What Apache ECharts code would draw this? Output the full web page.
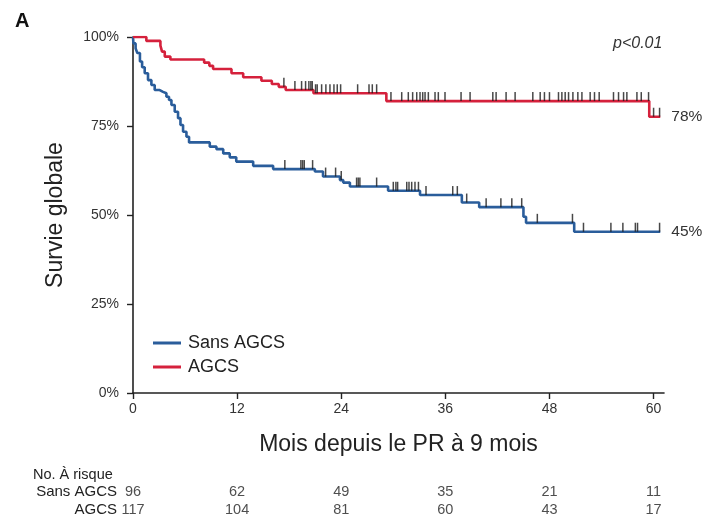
<!DOCTYPE html>
<html>
<head>
<meta charset="utf-8">
<script src="https://cdn.jsdelivr.net/npm/echarts@6/dist/echarts.min.js"></script>
<style>
  html, body { margin: 0; padding: 0; background: #fff; }
  #box { width: 705px; height: 523px; }
</style>
</head>
<body>
<div id="box"></div>
<script>
// courbe Sans AGCS : temps (mois) et survie (%)
const sansTime = [0, 0.05, 0.3, 0.5, 0.8, 1.05, 1.35, 1.73, 2.12, 2.5, 3.08, 3.46, 3.85, 4.15, 4.43, 4.81, 5.19, 5.47, 5.77, 6.16, 6.46, 8.85, 9.62, 10.4, 11.15, 11.9, 13.85, 16.15, 20.96, 21.9, 23.85, 24.23, 25.0, 29.4, 33.08, 37.9, 39.9, 45.0, 45.3, 50.85, 60.77];
const sansSurv = [100, 98.2, 96.8, 95.5, 93.1, 91.5, 89.8, 87.9, 86.5, 85.1, 84.6, 84.2, 83.2, 82.3, 80.9, 79.0, 77.2, 75.3, 73.4, 72.0, 70.4, 69.2, 68.5, 67.3, 66.2, 65.0, 63.8, 62.9, 62.2, 60.8, 59.8, 59.1, 58.0, 56.8, 55.6, 53.5, 52.2, 49.5, 47.8, 45.3, 45.3];
// patients censurés Sans AGCS
const sansCensor = [17.5, 19.35, 19.55, 19.74, 20.7, 22.2, 23.35, 24.0, 25.77, 25.96, 26.15, 28.08, 30.0, 30.3, 30.5, 31.55, 31.81, 32.12, 32.5, 32.9, 33.77, 36.85, 37.38, 38.46, 40.7, 42.4, 43.66, 44.8, 46.6, 50.65, 51.92, 55.08, 56.46, 57.9, 58.15, 60.69];

// courbe AGCS
const agcsTime = [0, 1.54, 3.16, 3.35, 3.66, 4.31, 8.2, 8.8, 9.23, 11.35, 12.7, 14.8, 16.0, 16.8, 17.6, 20.8, 29.2, 59.5, 60.77];
const agcsSurv = [100, 98.9, 97.6, 95.9, 94.5, 93.7, 92.8, 91.9, 91.0, 89.8, 88.7, 87.7, 86.8, 86.0, 85.1, 84.2, 82.0, 77.6, 77.6];
// patients censurés AGCS
const agcsCensor = [17.39, 18.66, 19.43, 19.89, 20.27, 20.5, 20.66, 21.04, 21.23, 21.74, 22.23, 22.7, 23.16, 23.54, 23.93, 25.89, 27.2, 27.58, 28.08, 29.73, 30.97, 31.73, 32.23, 32.7, 33.08, 33.39, 33.66, 34.04, 34.81, 35.19, 35.96, 37.81, 38.85, 41.47, 41.85, 43.0, 44.04, 46.08, 46.93, 47.42, 48.0, 49.04, 49.43, 49.81, 50.2, 50.7, 51.27, 51.74, 52.69, 53.19, 53.73, 55.38, 55.96, 56.54, 56.92, 58.08, 58.58, 59.42, 60.0, 60.69];

// axe x et tableau des patients à risque
const xTicks = [0, 12, 24, 36, 48, 60];
const riskGroups = ['Sans AGCS', 'AGCS'];
const riskSans = [96, 62, 49, 35, 21, 11];
const riskAgcs = [117, 104, 81, 60, 43, 17];

const RED = '#d5213c';
const BLUE = '#2a5d9b';
const FONT = "'Liberation Sans', Arial, sans-serif";

// valeur de la courbe (en escalier) au temps t
function survAt(times, surv, t) {
    let v = surv[0];
    for (let i = 0; i < times.length; i++) {
        if (times[i] <= t) v = surv[i];
    }
    return v;
}

const pairs = (a, b) => a.map((v, i) => [v, b[i]]);
const censorData = (c, times, surv) => c.map(t => [t, survAt(times, surv, t)]);

const censorStyle = {
    type: 'scatter',
    symbol: 'rect',
    symbolSize: [1.5, 9],
    symbolOffset: [0, -4.5],
    itemStyle: { color: '#1a1a1a' },
    z: 5,
    silent: true
};

const riskData = [];
xTicks.forEach((t, i) => {
    riskData.push([t, 'Sans AGCS', riskSans[i]]);
    riskData.push([t, 'AGCS', riskAgcs[i]]);
});

var myChart = echarts.init(document.getElementById('box'));
myChart.setOption({
    animation: false,
    backgroundColor: '#fff',
    textStyle: { fontFamily: FONT },
    graphic: [
        { type: 'text', left: 15, top: 11, style: { text: 'A', font: 'bold 20px ' + FONT, fill: '#111' } },
        { type: 'text', left: 613, top: 36, style: { text: 'p<0.01', font: 'italic 16px ' + FONT, fill: '#333' } },
        { type: 'text', left: 33, top: 467, style: { text: 'No. À risque', font: '14.5px ' + FONT, fill: '#222' } }
    ],
    legend: {
        data: ['Sans AGCS', 'AGCS'],
        icon: 'rect',
        orient: 'vertical',
        left: 148,
        top: 329,
        itemWidth: 28,
        itemHeight: 3,
        itemGap: 6,
        textStyle: { fontSize: 18, color: '#222', fontFamily: FONT, padding: [0, 0, 0, 2] }
    },
    grid: [
        { left: 133, top: 37, width: 531, height: 356 },
        { left: 133, top: 483, width: 531, height: 36 }
    ],
    xAxis: [
        {
            type: 'value',
            gridIndex: 0,
            min: 0,
            max: 61.2,
            name: 'Mois depuis le PR à 9 mois',
            nameLocation: 'middle',
            nameGap: 40,
            nameTextStyle: { fontSize: 23, color: '#222' },
            splitLine: { show: false },
            axisLine: { lineStyle: { color: '#222', width: 1.6 } },
            axisTick: { customValues: xTicks, length: 6, lineStyle: { color: '#222', width: 1.4 } },
            axisLabel: { customValues: xTicks, fontSize: 14, color: '#333', margin: 9 }
        },
        {
            type: 'value',
            gridIndex: 1,
            min: 0,
            max: 61.2,
            show: false
        }
    ],
    yAxis: [
        {
            type: 'value',
            gridIndex: 0,
            min: 0,
            max: 100,
            interval: 25,
            name: 'Survie globale',
            nameLocation: 'middle',
            nameGap: 66,
            nameTextStyle: { fontSize: 23, color: '#222' },
            splitLine: { show: false },
            axisLine: { show: true, lineStyle: { color: '#222', width: 1.6 } },
            axisTick: { show: true, length: 6, lineStyle: { color: '#222', width: 1.4 } },
            axisLabel: { formatter: '{value}%', fontSize: 14, color: '#333', margin: 14 }
        },
        {
            type: 'category',
            gridIndex: 1,
            data: riskGroups,
            inverse: true,
            axisLine: { show: false },
            axisTick: { show: false },
            splitLine: { show: false },
            axisLabel: { interval: 0, fontSize: 15, color: '#222', margin: 16 }
        }
    ],
    series: [
        {
            name: 'Sans AGCS',
            type: 'line',
            step: 'end',
            symbol: 'none',
            data: pairs(sansTime, sansSurv),
            lineStyle: { color: BLUE, width: 2.6 },
            itemStyle: { color: BLUE },
            endLabel: { show: true, formatter: '45%', distance: 11, fontSize: 15.5, color: '#333' }
        },
        {
            name: 'AGCS',
            type: 'line',
            step: 'end',
            symbol: 'none',
            data: pairs(agcsTime, agcsSurv),
            lineStyle: { color: RED, width: 2.6 },
            itemStyle: { color: RED },
            endLabel: { show: true, formatter: '78%', distance: 11, fontSize: 15.5, color: '#333' }
        },
        Object.assign({ name: 'cens1', data: censorData(sansCensor, sansTime, sansSurv) }, censorStyle),
        Object.assign({ name: 'cens2', data: censorData(agcsCensor, agcsTime, agcsSurv) }, censorStyle),
        {
            name: 'risque',
            type: 'scatter',
            xAxisIndex: 1,
            yAxisIndex: 1,
            symbolSize: 0,
            data: riskData,
            silent: true,
            label: {
                show: true,
                position: 'inside',
                formatter: p => p.value[2],
                fontSize: 14.5,
                color: '#222'
            }
        }
    ]
});
</script>
</body>
</html>
